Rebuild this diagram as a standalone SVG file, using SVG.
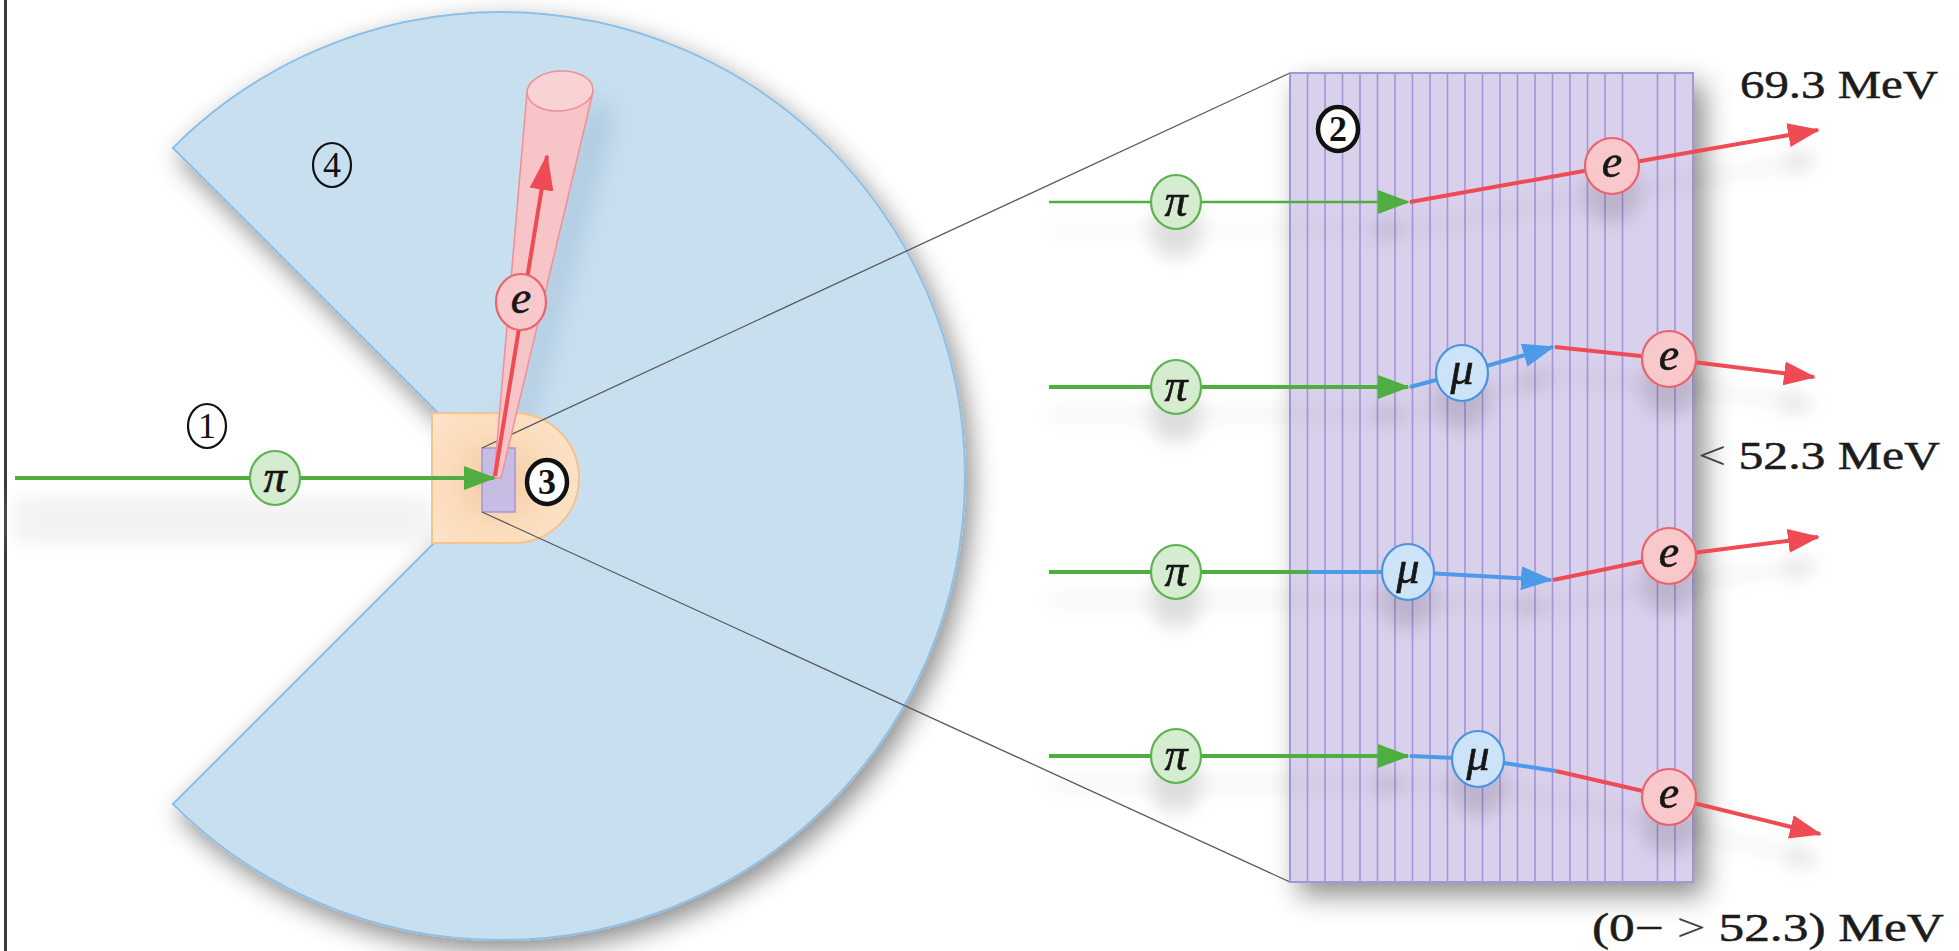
<svg xmlns="http://www.w3.org/2000/svg" width="1959" height="951" viewBox="0 0 1959 951">
  <style>
    .lbl { font-family: "Liberation Serif", "DejaVu Serif", serif; font-style: italic; font-size: 46px; text-anchor: middle; fill: #161616; stroke: #161616; stroke-width: 0.6; }
    .num { font-family: "Liberation Serif", "DejaVu Serif", serif; font-size: 36px; text-anchor: middle; fill: #111; }
    .numb { font-family: "Liberation Serif", "DejaVu Serif", serif; font-size: 36px; font-weight: bold; text-anchor: middle; fill: #111; }
    .ring { fill: none; stroke: #111; stroke-width: 2.2; }
    .ringb { fill: #fff; stroke: #111; stroke-width: 4.5; }
    .pi { fill: #d6ecd0; stroke: #5cb34f; stroke-width: 2.2; }
    .mu { fill: #cde3f7; stroke: #4b93de; stroke-width: 2.2; }
    .el { fill: #f8c8ca; stroke: #e9646c; stroke-width: 2.2; }
    .g { fill: none; stroke: #4fae3f; stroke-width: 4; }
    .b { fill: none; stroke: #4d9be8; stroke-width: 4; }
    .r { fill: none; stroke: #ee4b54; stroke-width: 4; }
    .guide { fill: none; stroke: #5a5a5a; stroke-width: 1.3; }
    .stripe { stroke: #a395d8; stroke-width: 1.6; }
    .energy { font-family: "Liberation Serif", "DejaVu Serif", serif; font-size: 40px; fill: #1c1c1c; stroke: #1c1c1c; stroke-width: 0.5; }
  </style>
  <defs>
    <marker id="ag" viewBox="0 0 32 24" markerWidth="32" markerHeight="24" refX="30" refY="12" orient="auto" markerUnits="userSpaceOnUse">
      <path d="M0,0 L32,12 L0,24 Z" fill="#4fae3f"/>
    </marker>
    <marker id="ab" viewBox="0 0 32 24" markerWidth="32" markerHeight="24" refX="30" refY="12" orient="auto" markerUnits="userSpaceOnUse">
      <path d="M0,0 L32,12 L0,24 Z" fill="#4d9be8"/>
    </marker>
    <marker id="ar" viewBox="0 0 32 24" markerWidth="32" markerHeight="24" refX="30" refY="12" orient="auto" markerUnits="userSpaceOnUse">
      <path d="M0,0 L32,12 L0,24 Z" fill="#ee4b54"/>
    </marker>
    <marker id="arl" viewBox="0 0 36 24" markerWidth="36" markerHeight="24" refX="34" refY="12" orient="auto" markerUnits="userSpaceOnUse">
      <path d="M0,0 L36,12 L0,24 Z" fill="#ee4b54"/>
    </marker>
    <filter id="bigShadow" x="-20%" y="-20%" width="140%" height="140%">
      <feDropShadow dx="6" dy="10" stdDeviation="13" flood-color="#000" flood-opacity="0.45"/>
    </filter>
    <filter id="slabShadow" x="-20%" y="-20%" width="140%" height="140%">
      <feDropShadow dx="10" dy="12" stdDeviation="14" flood-color="#000" flood-opacity="0.45"/>
    </filter>
    <filter id="rowShadow" x="-10%" y="-50%" width="120%" height="250%">
      <feDropShadow dx="0" dy="28" stdDeviation="9" flood-color="#000" flood-opacity="0.13"/>
    </filter>
    <filter id="soft" x="-50%" y="-50%" width="200%" height="200%">
      <feGaussianBlur stdDeviation="9"/>
    </filter>
    <filter id="softer" x="-50%" y="-50%" width="200%" height="200%">
      <feGaussianBlur stdDeviation="14"/>
    </filter>
    <radialGradient id="holderFill" cx="498" cy="480" r="90" gradientUnits="userSpaceOnUse">
      <stop offset="0" stop-color="#f3c8a0"/>
      <stop offset="0.55" stop-color="#fbdcbc"/>
      <stop offset="1" stop-color="#fde3c8"/>
    </radialGradient>
  </defs>

  <rect width="1959" height="951" fill="#fff"/>
  <!-- frame edge on the left -->
  <rect x="4" y="0" width="3" height="951" fill="#3a3a3a"/>

  <!-- faint shadow under the incoming beam -->
  <rect x="15" y="497" width="418" height="46" fill="#eaeaea" opacity="0.6" filter="url(#soft)"/>

  <!-- detector (4): circle with a 90 degree opening on the left -->
  <g id="detector">
    <path d="M501,476 L172.9,147.9 A464,464 0 1 1 172.9,804.1 Z" fill="#c8dff0" stroke="#8dbfe6" stroke-width="2" filter="url(#bigShadow)"/>
  </g>

  <!-- shadow cast by the positron cone -->
  <polygon points="500,470 590,100 612,110 515,470" fill="#7d9cbd" opacity="0.45" filter="url(#softer)"/>

  <!-- target holder (3) -->
  <g id="holder">
    <path d="M432,413 H514 A65,65 0 0 1 514,543 H432 Z" fill="url(#holderFill)" stroke="#f4c48f" stroke-width="2"/>
    <rect x="482" y="448" width="33" height="64" fill="#c7bde4" stroke="#a597d6" stroke-width="1.5"/>
  </g>

  <!-- zoom guides from the target to the enlarged view -->
  <g id="guides">
    <line class="guide" x1="482" y1="448" x2="1290" y2="73"/>
    <line class="guide" x1="482" y1="512" x2="1290" y2="882"/>
  </g>

  <!-- positron cone -->
  <g id="cone">
    <polygon points="494,478 527,92 593,92 501,478" fill="#f7c4c7" stroke="#ef9096" stroke-width="1.5"/>
    <ellipse cx="560" cy="91" rx="33" ry="20" transform="rotate(-4 560 91)" fill="#f9d2d4" stroke="#ef9096" stroke-width="1.5"/>
  </g>

  <g id="connectors-left">
    <line class="g" x1="15" y1="478" x2="494" y2="478" marker-end="url(#ag)"/>
    <line class="r" x1="495" y1="476" x2="547" y2="156" marker-end="url(#arl)"/>
  </g>
  <g id="node-pi-beam">
    <ellipse class="pi" cx="275" cy="478" rx="25" ry="27"/>
    <text class="lbl" x="275" y="492">π</text>
  </g>
  <g id="node-e-cone">
    <ellipse class="el" cx="521" cy="302" rx="25" ry="28"/>
    <text class="lbl" x="521" y="313">e</text>
  </g>

  <!-- circled region numbers -->
  <g id="label-1">
    <ellipse class="ring" cx="207" cy="426" rx="19" ry="22"/>
    <text class="num" x="207" y="438">1</text>
  </g>
  <g id="label-4">
    <ellipse class="ring" cx="332" cy="165" rx="19" ry="22"/>
    <text class="num" x="332" y="177">4</text>
  </g>
  <g id="label-3">
    <ellipse class="ringb" cx="547" cy="482" rx="20" ry="22"/>
    <text class="numb" x="547" y="494">3</text>
  </g>

  <!-- enlarged stopping target (2) -->
  <g id="target">
    <rect x="1290" y="73" width="403" height="809" fill="#d9d0ec" stroke="#a597d6" stroke-width="2" filter="url(#slabShadow)"/>
    <g id="target-layers">
      <line class="stripe" x1="1307.5" y1="74" x2="1307.5" y2="881"/>
      <line class="stripe" x1="1325" y1="74" x2="1325" y2="881"/>
      <line class="stripe" x1="1342.5" y1="74" x2="1342.5" y2="881"/>
      <line class="stripe" x1="1360" y1="74" x2="1360" y2="881"/>
      <line class="stripe" x1="1377.5" y1="74" x2="1377.5" y2="881"/>
      <line class="stripe" x1="1395" y1="74" x2="1395" y2="881"/>
      <line class="stripe" x1="1412.5" y1="74" x2="1412.5" y2="881"/>
      <line class="stripe" x1="1430" y1="74" x2="1430" y2="881"/>
      <line class="stripe" x1="1447.5" y1="74" x2="1447.5" y2="881"/>
      <line class="stripe" x1="1465" y1="74" x2="1465" y2="881"/>
      <line class="stripe" x1="1482.5" y1="74" x2="1482.5" y2="881"/>
      <line class="stripe" x1="1500" y1="74" x2="1500" y2="881"/>
      <line class="stripe" x1="1517.5" y1="74" x2="1517.5" y2="881"/>
      <line class="stripe" x1="1535" y1="74" x2="1535" y2="881"/>
      <line class="stripe" x1="1552.5" y1="74" x2="1552.5" y2="881"/>
      <line class="stripe" x1="1570" y1="74" x2="1570" y2="881"/>
      <line class="stripe" x1="1587.5" y1="74" x2="1587.5" y2="881"/>
      <line class="stripe" x1="1605" y1="74" x2="1605" y2="881"/>
      <line class="stripe" x1="1622.5" y1="74" x2="1622.5" y2="881"/>
      <line class="stripe" x1="1657.5" y1="74" x2="1657.5" y2="881"/>
      <line class="stripe" x1="1675" y1="74" x2="1675" y2="881"/>
    </g>
  </g>
  <g id="label-2">
    <ellipse class="ringb" cx="1338" cy="129" rx="20" ry="22"/>
    <text class="numb" x="1338" y="141">2</text>
  </g>

  <!-- decay chains in the target -->
  <g id="decay-rows" filter="url(#rowShadow)">
    <g id="connectors">
      <line class="g" style="stroke-width:2.6" x1="1049" y1="202" x2="1408" y2="202" marker-end="url(#ag)"/>
      <polyline class="r" points="1410,202 1612,166 1818,130" marker-end="url(#ar)"/>

      <line class="g" x1="1049" y1="387" x2="1408" y2="387" marker-end="url(#ag)"/>
      <polyline class="b" points="1410,387 1462,373 1553,347" marker-end="url(#ab)"/>
      <polyline class="r" points="1555,347 1669,359 1814,377" marker-end="url(#ar)"/>

      <line class="g" x1="1049" y1="572" x2="1310" y2="572"/>
      <polyline class="b" points="1310,572 1408,572 1551,580" marker-end="url(#ab)"/>
      <polyline class="r" points="1553,580 1669,556 1818,537" marker-end="url(#ar)"/>

      <line class="g" x1="1049" y1="756" x2="1408" y2="756" marker-end="url(#ag)"/>
      <polyline class="b" points="1410,756 1478,759 1556,771"/>
      <polyline class="r" points="1556,771 1669,797 1820,834" marker-end="url(#ar)"/>
    </g>

    <g id="node-pi-1"><ellipse class="pi" cx="1176" cy="202" rx="25" ry="27"/><text class="lbl" x="1176" y="216">π</text></g>
    <g id="node-e-1"><ellipse class="el" cx="1612" cy="166" rx="27" ry="28"/><text class="lbl" x="1612" y="177">e</text></g>

    <g id="node-pi-2"><ellipse class="pi" cx="1176" cy="387" rx="25" ry="27"/><text class="lbl" x="1176" y="401">π</text></g>
    <g id="node-mu-2"><ellipse class="mu" cx="1462" cy="373" rx="26" ry="28"/><text class="lbl" x="1462" y="384">μ</text></g>
    <g id="node-e-2"><ellipse class="el" cx="1669" cy="359" rx="27" ry="28"/><text class="lbl" x="1669" y="370">e</text></g>

    <g id="node-pi-3"><ellipse class="pi" cx="1176" cy="572" rx="25" ry="27"/><text class="lbl" x="1176" y="586">π</text></g>
    <g id="node-mu-3"><ellipse class="mu" cx="1408" cy="572" rx="26" ry="28"/><text class="lbl" x="1408" y="583">μ</text></g>
    <g id="node-e-3"><ellipse class="el" cx="1669" cy="556" rx="27" ry="28"/><text class="lbl" x="1669" y="567">e</text></g>

    <g id="node-pi-4"><ellipse class="pi" cx="1176" cy="756" rx="25" ry="27"/><text class="lbl" x="1176" y="770">π</text></g>
    <g id="node-mu-4"><ellipse class="mu" cx="1478" cy="759" rx="26" ry="28"/><text class="lbl" x="1478" y="770">μ</text></g>
    <g id="node-e-4"><ellipse class="el" cx="1669" cy="797" rx="27" ry="28"/><text class="lbl" x="1669" y="808">e</text></g>
  </g>

  <!-- positron energies -->
  <g id="energies">
    <text class="energy" x="1740" y="98" textLength="198" lengthAdjust="spacingAndGlyphs">69.3 MeV</text>
    <text class="energy" x="1698" y="469" textLength="242" lengthAdjust="spacingAndGlyphs"><tspan fill="#444" stroke="none">&lt;</tspan> 52.3 MeV</text>
    <text class="energy" x="1592" y="941" textLength="352" lengthAdjust="spacingAndGlyphs">(0− <tspan fill="#444" stroke="none">&gt;</tspan> 52.3) MeV</text>
  </g>
</svg>
